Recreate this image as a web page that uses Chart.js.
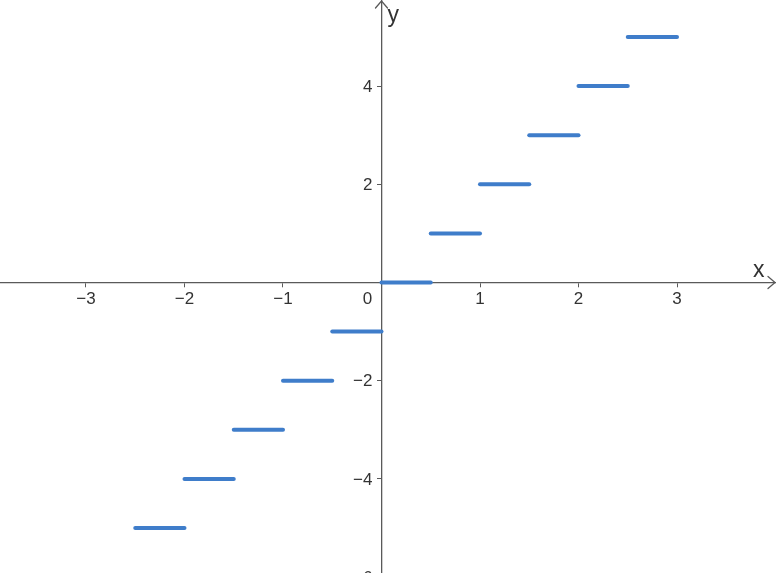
<!DOCTYPE html>
<html>
<head>
<meta charset="utf-8">
<script src="https://cdn.jsdelivr.net/npm/chart.js@4.4.1/dist/chart.umd.min.js"></script>
<style>
  html, body { margin: 0; padding: 0; background: #fff; }
  canvas { display: block; }
</style>
</head>
<body>
<canvas id="stepChart" width="776" height="573"></canvas>
<script>
// step segments: y = level on [start, end)
const segStart = [-2.5, -2, -1.5, -1, -0.5, 0, 0.5, 1, 1.5, 2, 2.5];
const segEnd = [-2, -1.5, -1, -0.5, 0, 0.5, 1, 1.5, 2, 2.5, 3];
const levels = [-5, -4, -3, -2, -1, 0, 1, 2, 3, 4, 5];

const xTicks = [-3, -2, -1, 1, 2, 3];
const yTicks = [-6, -4, -2, 2, 4];

const axisColor = "#5a5a5a";
const textColor = "#333";
const lineColor = "#3f7dca";
const fontFamily = "'Liberation Sans', Arial, sans-serif";
const labelFont = "17px " + fontFamily;

const fmt = (v) => (v < 0 ? "\u2212" + Math.abs(v) : String(v));

const datasets = levels.map((lv, i) => ({
  data: [
    { x: segStart[i], y: lv },
    { x: segEnd[i], y: lv },
  ],
  showLine: true,
  borderColor: lineColor,
  borderWidth: 4,
  borderCapStyle: "round",
  pointRadius: 0,
  pointHoverRadius: 0,
}));

function noPad(scale) {
  scale.paddingTop = 0;
  scale.paddingBottom = 0;
  scale.paddingLeft = 0;
  scale.paddingRight = 0;
}

// arrows, axis names, y tick labels and the origin label
const axisExtras = {
  id: "axisExtras",
  afterDraw(chart) {
    const { ctx, chartArea, scales } = chart;
    const ox = scales.x.getPixelForValue(0);
    const oy = scales.y.getPixelForValue(0);
    ctx.save();
    ctx.strokeStyle = axisColor;
    ctx.lineWidth = 1.3;
    ctx.lineCap = "round";
    ctx.beginPath();
    ctx.moveTo(ox - 6, chartArea.top + 8);
    ctx.lineTo(ox, chartArea.top + 1);
    ctx.lineTo(ox + 6, chartArea.top + 8);
    ctx.moveTo(chartArea.right - 8, oy - 6);
    ctx.lineTo(chartArea.right - 1, oy);
    ctx.lineTo(chartArea.right - 8, oy + 6);
    ctx.stroke();

    ctx.fillStyle = textColor;
    ctx.font = "23px " + fontFamily;
    ctx.textAlign = "left";
    ctx.textBaseline = "alphabetic";
    ctx.fillText("y", ox + 6, chartArea.top + 22);
    ctx.fillText("x", chartArea.right - 23, oy - 5);

    ctx.font = labelFont;
    ctx.textAlign = "right";
    ctx.textBaseline = "middle";
    yTicks.forEach((v) => {
      ctx.fillText(fmt(v), ox - 9, scales.y.getPixelForValue(v) + 1);
    });

    ctx.textAlign = "center";
    ctx.textBaseline = "top";
    ctx.fillText("0", ox - 14, oy + 8);
    ctx.restore();
  },
};

new Chart(document.getElementById("stepChart"), {
  type: "scatter",
  data: { datasets },
  options: {
    responsive: false,
    devicePixelRatio: 1,
    animation: false,
    layout: { padding: 0 },
    plugins: { legend: { display: false }, tooltip: { enabled: false } },
    scales: {
      x: {
        type: "linear",
        position: { y: 0 },
        min: -3.873,
        max: 4.005,
        offset: false,
        afterBuildTicks: (s) => { s.ticks = xTicks.map((v) => ({ value: v })); },
        afterFit: noPad,
        grid: { drawOnChartArea: false, drawTicks: true, tickLength: 4, tickColor: axisColor },
        border: { display: true, color: axisColor, width: 1.3 },
        ticks: {
          autoSkip: false,
          maxRotation: 0,
          padding: 3,
          color: textColor,
          font: { family: fontFamily, size: 17 },
          callback: (v) => fmt(v),
        },
      },
      y: {
        type: "linear",
        position: { x: 0 },
        min: -5.917,
        max: 5.754,
        offset: false,
        afterBuildTicks: (s) => { s.ticks = yTicks.map((v) => ({ value: v })); },
        afterFit: noPad,
        grid: { drawOnChartArea: false, drawTicks: true, tickLength: 4, tickColor: axisColor },
        border: { display: true, color: axisColor, width: 1.3 },
        ticks: { display: false },
      },
    },
  },
  plugins: [axisExtras],
});
</script>
</body>
</html>
